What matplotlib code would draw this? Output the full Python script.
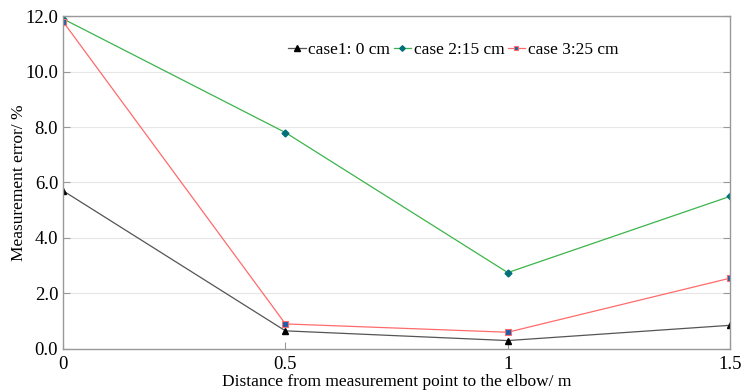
import matplotlib
matplotlib.use("Agg")
import matplotlib.pyplot as plt

x = [0, 0.5, 1, 1.5]
case1 = [5.7, 0.65, 0.3, 0.85]
case2 = [11.9, 7.8, 2.75, 5.5]
case3 = [11.8, 0.9, 0.6, 2.55]
labels = ["case1: 0 cm", "case 2:15 cm", "case 3:25 cm"]
xticks = [0, 0.5, 1, 1.5]
xticklabels = ["0", "0.5", "1", "1.5"]
yticks = [0, 2, 4, 6, 8, 10, 12]

plt.rcParams['font.family'] = ['Liberation Serif', 'DejaVu Serif']

fig = plt.figure(figsize=(7.42, 3.92), dpi=100)
ax = fig.add_axes([0.085, 0.11, 0.899, 0.849])

ax.plot(x, case1, color='#555555', lw=0.9, marker='^', ms=5, mfc='black', mec='black', label=labels[0])
ax.plot(x, case2, color='#3cb44b', lw=0.9, marker='D', ms=3.5, mfc='#00707a', mec='#00707a', label=labels[1])
ax.plot(x, case3, color='#ff6b6b', lw=0.9, marker='s', ms=4, mfc='#1f5fa8', mec='#ff6b6b', mew=0.8, label=labels[2])

ax.set_xlim(0, 1.5)
ax.set_ylim(0, 12)
ax.set_xticks(xticks)
ax.set_xticklabels(xticklabels)
ax.set_yticks(yticks)
ax.set_yticklabels([f"{v:.1f}" for v in yticks])
ax.yaxis.grid(True, color='#e6e6e6', lw=0.8)
ax.set_axisbelow(True)
for s in ax.spines.values():
    s.set_color('#999999')
    s.set_linewidth(1.0)
ax.tick_params(axis='both', direction='in', color='#999999', labelsize=13.5, length=5, right=True)
ax.tick_params(axis='x', pad=5)
ax.set_xlabel("Distance from measurement point to the elbow/ m", fontsize=12.5, labelpad=0)
ax.set_ylabel("Measurement error/ %", fontsize=12.5)
ax.xaxis.label.set_va('center')
ax.yaxis.label.set_va('center')
ax.xaxis.set_label_coords(0.5, -0.1)
ax.yaxis.set_label_coords(-0.066, 0.5)

ax.legend(loc='upper center', bbox_to_anchor=(0.585, 0.97), ncol=3, frameon=False, fontsize=12.5,
          handlelength=1.0, handletextpad=0.15, columnspacing=0.2, markerscale=0.8)

fig.savefig("out.png", dpi=100)
